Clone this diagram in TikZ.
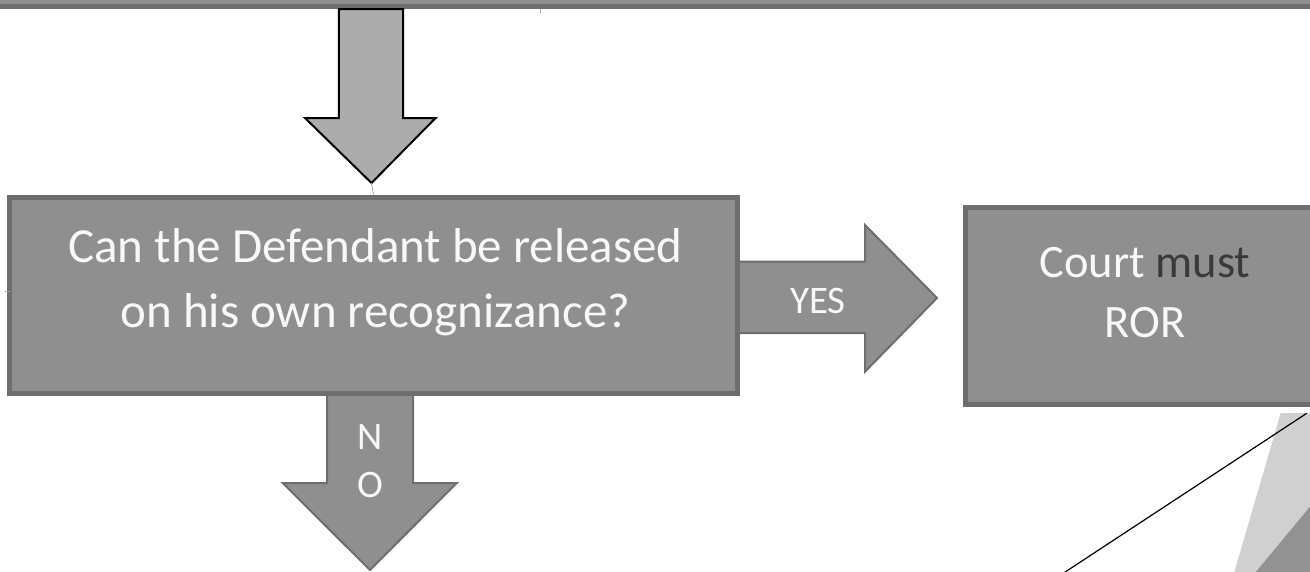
\documentclass[tikz,border=0pt]{standalone}
\usepackage{fontspec}
\setmainfont{Carlito}
\usetikzlibrary{calc}
\definecolor{boxfill}{HTML}{8F8F8F}
\definecolor{boxline}{HTML}{6E6E6E}
\definecolor{arrowfill}{HTML}{ACACAC}
\definecolor{darktext}{HTML}{3A3A3A}
\definecolor{paletri}{HTML}{D0D0D0}
\definecolor{midtri}{HTML}{929292}
\definecolor{stub}{HTML}{A6A6A6}
\definecolor{lighttext}{HTML}{F8F8F8}
\begin{document}
\begin{tikzpicture}[x=1pt,y=-1pt,
  panel/.style={draw=boxline, fill=boxfill, line width=5pt, inner sep=0pt},
  paneltext/.style={text=lighttext, inner sep=0pt, align=center},
  blockarrow/.style={draw=boxline, fill=boxfill, line width=2pt, line join=miter},
  inflow/.style={draw=black, fill=arrowfill, line width=2pt, line join=miter},
  arrowlabel/.style={text=lighttext, inner sep=0pt, align=center,
    font=\fontsize{39}{48}\selectfont},
  stubline/.style={draw=stub, line width=1pt},
  leader/.style={draw=black, line width=1.2pt}]
\useasboundingbox (0,0) rectangle (1310,571);
\clip (0,0) rectangle (1310,571);

% decorative wedges in the lower right corner
\fill[paletri] (1280.7,413) -- (1330,413) -- (1330,580) -- (1232,580) -- cycle;
\fill[midtri] (1320,494.6) -- (1330,494.6) -- (1330,580) -- (1249.2,580) -- cycle;

% band along the top edge
\draw[panel] (-20,-40) rectangle (1330,6.5);
\draw[stubline] (540,9) -- (540,12.5);

% yes / no block arrows, drawn below the boxes
\draw[blockarrow] (730,261.7) -- (865,261.7) -- (865,225) -- (937,298)
  -- (865,371.7) -- (865,333) -- (730,333) -- cycle;
\draw[blockarrow] (327,390) -- (327,483) -- (282.7,483) -- (370,570)
  -- (456.7,483) -- (413,483) -- (413,390) -- cycle;

% decision box and outcome box
\node[panel, minimum width=728pt, minimum height=196pt] (q) at (373.5,295.5) {};
\node[paneltext, font=\fontsize{49}{65}\selectfont] (qtext) at ($(q.center)+(2,-13)$)
  {Can the Defendant be released\\on his own recognizance?};
\node[panel, minimum width=359pt, minimum height=197pt] (ror) at (1145,306) {};
\node[paneltext, font=\fontsize{46.5}{60}\selectfont] (rortext) at ($(ror.center)+(0,-13)$)
  {Court \textcolor{darktext}{must}\\ROR};

\draw[stubline] (q.west) ++(-2.5,-4.5) -- ++(5,0);

% incoming arrow from the band above
\coordinate (intip) at (371.5,183);
\draw[inflow] (338.8,9) -- (338.8,118) -- (305,118) -- (intip)
  -- (435.6,118) -- (403.2,118) -- (403.2,9) -- cycle;
\draw[stubline, line width=0.8pt] (intip) -- (q.north);

\node[arrowlabel, anchor=base] (yes) at (818,313) {YES};
\node[arrowlabel] (no) at (370,461) {N\\O};

% leader line into the corner
\coordinate (leadA) at (1306.7,413.3);
\coordinate (leadB) at (1066.7,571);
\draw[leader] (leadA) -- ($(leadA)!1.03!(leadB)$);
\end{tikzpicture}
\end{document}
